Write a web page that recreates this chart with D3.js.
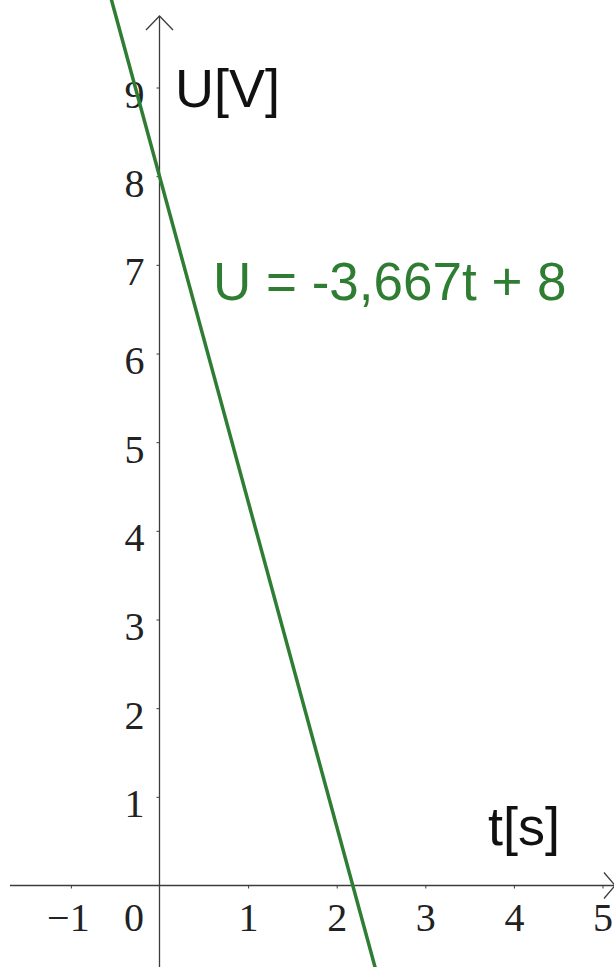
<!DOCTYPE html>
<html>
<head>
<meta charset="utf-8">
<script src="https://cdn.jsdelivr.net/npm/d3@7"></script>
<style>
  html, body { margin: 0; padding: 0; background: #fff; overflow: hidden; }
  svg { display: block; }
  .tick text { font-family: "Liberation Serif", "DejaVu Serif", serif; font-size: 40px; fill: #222; }
</style>
</head>
<body>
<div class="chart"></div>
<script>
// data
const xTicks = [-1, 0, 1, 2, 3, 4, 5]
const yTicks = [1, 2, 3, 4, 5, 6, 7, 8, 9]
const slope = -3.667
const intercept = 8
const tRange = [-0.6, 2.6]
const equationLabel = 'U = -3,667t + 8'
const xLabel = 't[s]'
const yLabel = 'U[V]'

const width = 614
const height = 967
const green = '#2e7d32'
const axisColor = '#3c3c3c'

const svg = d3.select('.chart')
  .append('svg')
  .attr('width', width)
  .attr('height', height)

const x = d3.scaleLinear().domain([0, 5]).range([159.5, 602.5])
const y = d3.scaleLinear().domain([0, 9]).range([885.5, 87.5])

// axis lines + arrows
svg.append('line')
  .attr('x1', 10).attr('x2', 614)
  .attr('y1', y(0)).attr('y2', y(0))
  .attr('stroke', axisColor).attr('stroke-width', 1.3)
svg.append('line')
  .attr('x1', x(0)).attr('x2', x(0))
  .attr('y1', 16).attr('y2', height)
  .attr('stroke', axisColor).attr('stroke-width', 1.3)

svg.append('path')
  .attr('d', `M${x(0) - 13.5},30 L${x(0)},16 L${x(0) + 13.5},30`)
  .attr('fill', 'none').attr('stroke', axisColor).attr('stroke-width', 1.3)
svg.append('path')
  .attr('d', `M604,${y(0) - 13} L615,${y(0)} L604,${y(0) + 13}`)
  .attr('fill', 'none').attr('stroke', axisColor).attr('stroke-width', 1.3)

const fmt = (d) => d < 0 ? '\u2212' + Math.abs(d) : String(d)

// x axis ticks
const gx = svg.append('g')
  .attr('transform', `translate(0,${y(0)})`)
  .call(d3.axisBottom(x).tickValues(xTicks).tickSize(3).tickSizeOuter(0).tickFormat(fmt))
gx.select('.domain').remove()
gx.selectAll('.tick line').attr('stroke', axisColor)
  .filter(d => d === 0).remove()
gx.selectAll('.tick text')
  .attr('y', 45).attr('dy', 0)
  .attr('dx', d => d === 0 ? -26 : (d < 0 ? -3 : 0))

// y axis ticks
const gy = svg.append('g')
  .attr('transform', `translate(${x(0)},0)`)
  .call(d3.axisLeft(y).tickValues(yTicks).tickSize(3).tickSizeOuter(0).tickFormat(fmt))
gy.select('.domain').remove()
gy.selectAll('.tick line').attr('stroke', axisColor)
gy.selectAll('.tick text')
  .attr('x', -15).attr('dy', 20)

// the line
const line = d3.line()
  .x(d => x(d))
  .y(d => y(slope * d + intercept))

svg.append('path')
  .datum(tRange)
  .attr('d', line)
  .attr('fill', 'none')
  .attr('stroke', green)
  .attr('stroke-width', 3.5)

// labels
const sans = '"Liberation Sans", Arial, sans-serif'
svg.append('text')
  .attr('x', 175).attr('y', 107)
  .attr('font-family', sans).attr('font-size', 54)
  .attr('fill', '#111')
  .text(yLabel)

svg.append('text')
  .attr('x', 488).attr('y', 845)
  .attr('font-family', sans).attr('font-size', 54)
  .attr('fill', '#111')
  .text(xLabel)

svg.append('text')
  .attr('x', 213).attr('y', 300)
  .attr('font-family', sans).attr('font-size', 53)
  .attr('fill', green)
  .text(equationLabel)
</script>
</body>
</html>
